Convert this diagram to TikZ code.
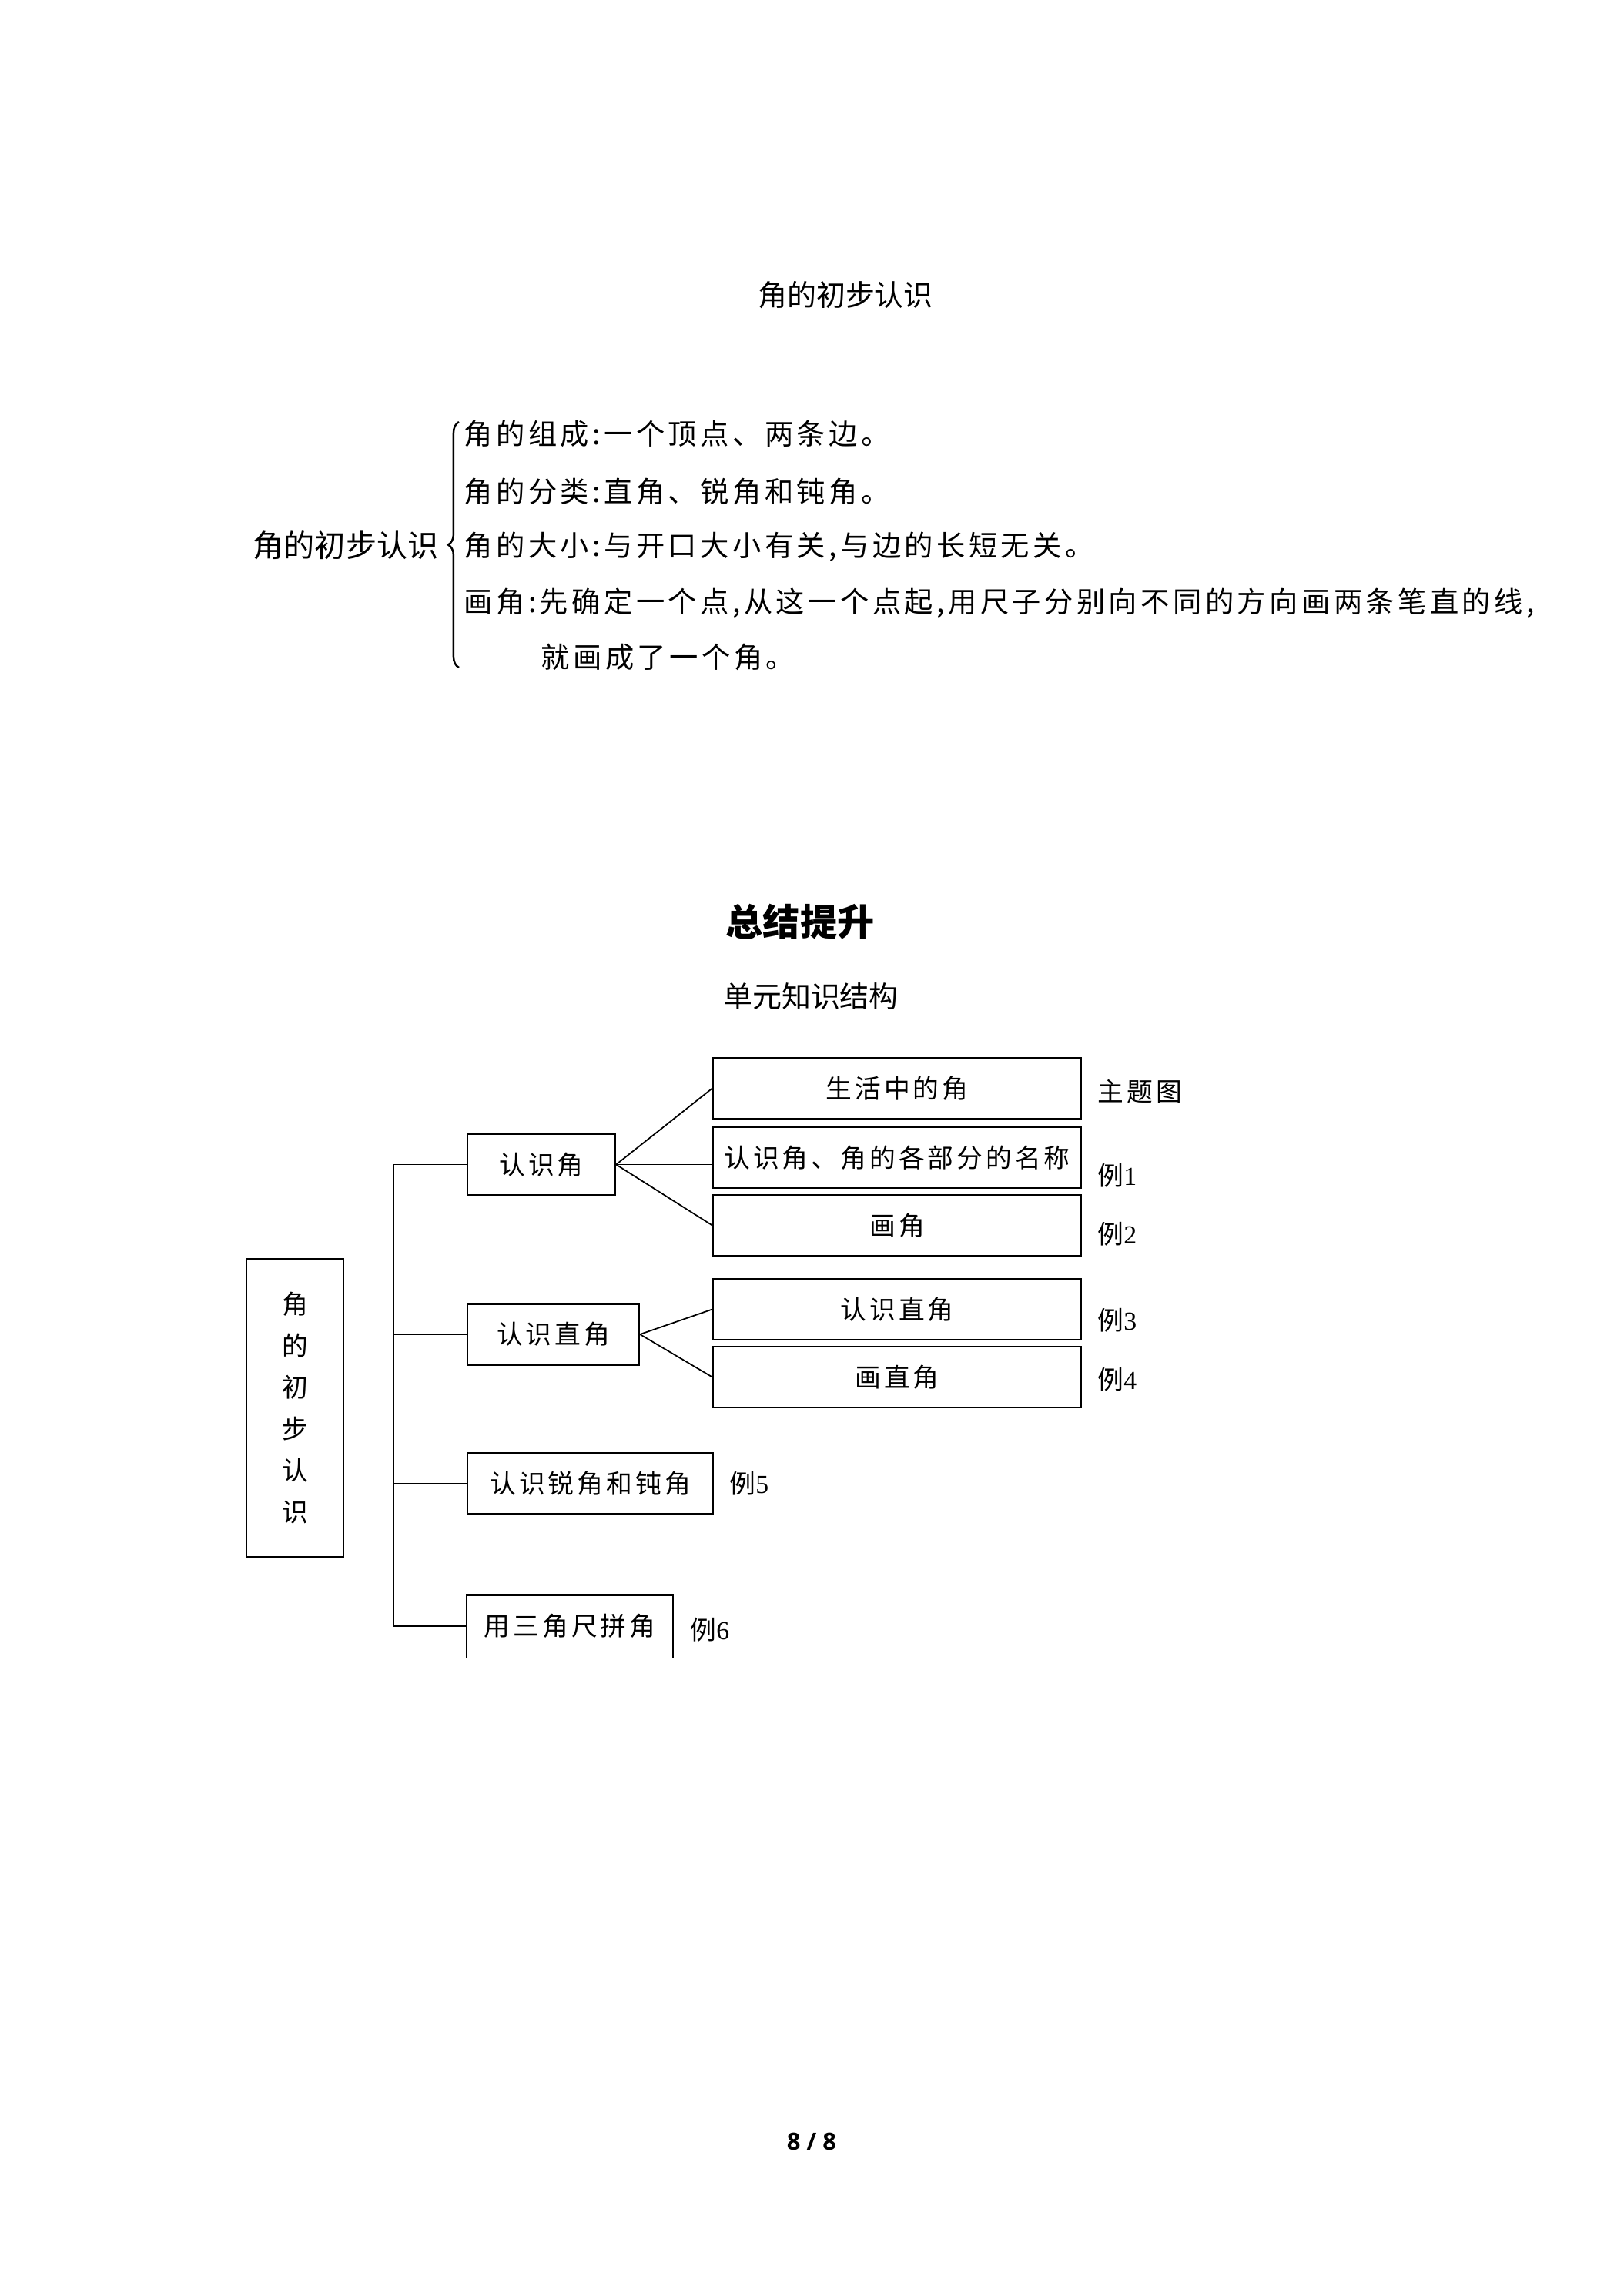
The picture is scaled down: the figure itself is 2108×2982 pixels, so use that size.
\documentclass[tikz,border=0pt]{standalone}
\usepackage{fontspec}
\setmainfont{Liberation Serif}
\newfontfamily\cjk{Noto Sans CJK SC}
\newfontfamily\cjksp{Noto Sans CJK SC}[LetterSpace=12]
\newfontfamily\pagefont{Open Sans}
\usetikzlibrary{decorations.pathreplacing}

\begin{document}
\begin{tikzpicture}[x=0.1mm,y=-0.1mm]
\tikzstyle{every node}=[inner sep=0pt]
\tikzstyle{line}=[line width=0.5pt]
\tikzstyle{box}=[draw,line width=0.6pt,minimum height=7.9mm,anchor=west,font=\cjksp\fontsize{9.6}{11}\selectfont]
\tikzstyle{note}=[anchor=west,font=\cjksp\fontsize{9.6}{11}\selectfont]
\tikzstyle{row}=[anchor=west,font=\cjksp\fontsize{10.6}{12}\selectfont]
\useasboundingbox (0,0) rectangle (2108,2982);

% brace summary
\node[font=\cjk\fontsize{10.8}{13}\selectfont] (title) at (1098,383) {角的初步认识};
\node[font=\cjk\fontsize{11.4}{14}\selectfont] (main) at (449,708) {角的初步认识};
\coordinate (bt) at (596,548);
\coordinate (bb) at (596,867);
\draw[line width=0.7pt,decorate,decoration={brace,amplitude=4pt}] (bb) -- (bt);
\node[row] (r1) at (602,563) {角的组成:一个顶点、两条边。};
\node[row] (r2) at (602,638) {角的分类:直角、锐角和钝角。};
\node[row] (r3) at (602,710) {角的大小:与开口大小有关,与边的长短无关。};
\node[row] (r4) at (602,783) {画角:先确定一个点,从这一个点起,用尺子分别向不同的方向画两条笔直的线,};
\node[row] (r5) at (702,853) {就画成了一个角。};

% knowledge tree
\node[font=\cjk\bfseries\fontsize{13.7}{16}\selectfont] (head) at (1039,1197) {总结提升};
\node[font=\cjk\fontsize{10.8}{13}\selectfont] (sub) at (1053,1294) {单元知识结构};

\node[box,anchor=center,minimum width=12.6mm,minimum height=38.7mm,align=center,font=\cjksp\fontsize{9.6}{15.4}\selectfont] (root) at (383,1828.5) {角\\的\\初\\步\\认\\识};

\node[box,minimum width=19.2mm] (l1a) at (606,1512.5) {认识角};
\node[box,minimum width=22.3mm] (l1b) at (606,1733) {认识直角};
\node[box,minimum width=31.9mm] (l1c) at (606,1927) {认识锐角和钝角};
\node[box,draw=none,minimum width=26.6mm] (l1d) at (606,2112) {用三角尺拼角};
\draw[line width=0.6pt] (l1d.south west) -- (l1d.north west) -- (l1d.north east) -- (l1d.south east);

\node[box,minimum width=47.8mm] (l2a) at (925,1413.5) {生活中的角};
\node[box,minimum width=47.8mm] (l2b) at (925,1503.5) {认识角、角的各部分的名称};
\node[box,minimum width=47.8mm] (l2c) at (925,1591.5) {画角};
\node[box,minimum width=47.8mm] (l2d) at (925,1700.5) {认识直角};
\node[box,minimum width=47.8mm] (l2e) at (925,1788.5) {画直角};

\node[note] (n1) at (1425,1418) {主题图};
\node[note] (n2) at (1425,1527) {例\rmfamily 1};
\node[note] (n3) at (1425,1603) {例\rmfamily 2};
\node[note] (n4) at (1425,1715) {例\rmfamily 3};
\node[note] (n5) at (1425,1792) {例\rmfamily 4};
\node[note] (n6) at (947,1927) {例\rmfamily 5};
\node[note] (n7) at (896,2117) {例\rmfamily 6};

% connectors
\coordinate (sp) at (511,0);
\coordinate (rj) at ([yshift=4pt]root.east);
\draw[line] (rj) -- (rj -| sp);
\draw[line] (l1a.west -| sp) -- (l1d.west -| sp);
\foreach \nd in {l1a,l1b,l1c,l1d} \draw[line] (\nd.west -| sp) -- (\nd.west);
\draw[line] (l1a.east) -- (l2a.west);
\draw[line] (l1a.east) -- (l1a.east -| l2b.west);
\draw[line] (l1a.east) -- (l2c.west);
\draw[line] (l1b.east) -- (l2d.west);
\draw[line] (l1b.east) -- (l2e.west);

\node[font=\pagefont\bfseries\fontsize{8.8}{10}\selectfont] (page) at (1054,2781) {8 / 8};
\end{tikzpicture}
\end{document}
